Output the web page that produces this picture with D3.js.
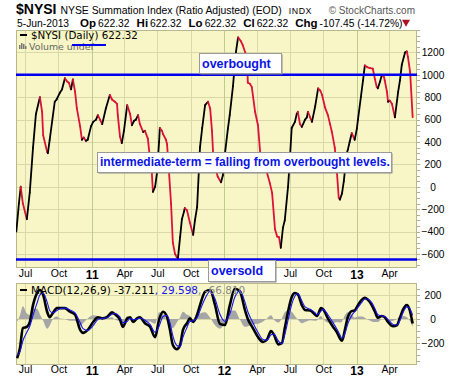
<!DOCTYPE html>
<html>
<head>
<meta charset="utf-8">
<style>
  body { margin: 0; background: #fff; }
  text { font-family: "Liberation Sans", Arial, sans-serif; }
  .lg { font-family: "DejaVu Sans", Verdana, sans-serif; }
</style>
</head>
<body>
<div id="chart"></div>
<script src="https://cdn.jsdelivr.net/npm/d3@7/dist/d3.min.js"></script>
<script>
// $NYSI daily values
const nysiDates = [
  "2010-06-07","2010-06-14","2010-06-19","2010-06-25","2010-07-06","2010-07-14","2010-07-23","2010-07-31","2010-08-11","2010-08-17",
  "2010-08-20","2010-08-31","2010-09-02","2010-09-07","2010-09-21","2010-09-26","2010-10-05","2010-10-11","2010-10-19","2010-10-25",
  "2010-10-30","2010-11-05","2010-11-10","2010-11-16","2010-11-21","2010-11-30","2010-12-05","2010-12-10","2010-12-16","2010-12-21",
  "2010-12-30","2011-01-05","2011-01-13","2011-01-18","2011-01-24","2011-01-30","2011-02-09","2011-02-20","2011-02-26","2011-03-06",
  "2011-03-12","2011-03-14","2011-03-20","2011-03-25","2011-03-31","2011-04-09","2011-04-17","2011-04-22","2011-04-28","2011-05-03",
  "2011-05-09","2011-05-14","2011-05-23","2011-05-28","2011-06-05","2011-06-11","2011-06-16","2011-06-19","2011-06-25","2011-06-30",
  "2011-07-06","2011-07-08","2011-07-14","2011-07-17","2011-07-25","2011-07-28","2011-08-02","2011-08-08","2011-08-13","2011-08-19",
  "2011-08-24","2011-08-27","2011-09-02","2011-09-07","2011-09-13","2011-09-15","2011-09-21","2011-09-29","2011-10-08","2011-10-13",
  "2011-10-19","2011-10-27","2011-11-02","2011-11-10","2011-11-18","2011-11-24","2011-11-29","2011-12-02","2011-12-07","2011-12-15",
  "2011-12-24","2011-12-29","2012-01-04","2012-01-12","2012-01-17","2012-01-26","2012-02-03","2012-02-09","2012-02-17","2012-02-22",
  "2012-03-02","2012-03-05","2012-03-07","2012-03-13","2012-03-18","2012-03-27","2012-04-04","2012-04-10","2012-04-21","2012-04-29",
  "2012-05-07","2012-05-13","2012-05-21","2012-05-27","2012-06-01","2012-06-06","2012-06-12","2012-06-17","2012-06-26","2012-07-01",
  "2012-07-06","2012-07-15","2012-07-20","2012-07-23","2012-07-29","2012-08-03","2012-08-12","2012-08-17","2012-08-20","2012-08-26",
  "2012-08-31","2012-09-09","2012-09-17","2012-09-23","2012-09-28","2012-10-06","2012-10-14","2012-10-20","2012-10-25","2012-11-02",
  "2012-11-08","2012-11-13","2012-11-16","2012-11-22","2012-11-27","2012-12-05","2012-12-08","2012-12-13","2012-12-19","2012-12-27",
  "2013-01-02","2013-01-05","2013-01-13","2013-01-19","2013-01-24","2013-01-30","2013-02-07","2013-02-15","2013-02-21","2013-02-26",
  "2013-03-01","2013-03-07","2013-03-12","2013-03-18","2013-03-20","2013-03-26","2013-03-29","2013-04-03","2013-04-09","2013-04-17",
  "2013-04-26","2013-05-01","2013-05-06","2013-05-15","2013-05-20","2013-05-23","2013-05-29","2013-06-05"
];
const nysiValues = [
  -400,-150,0,-150,-290,-50,350,650,800,670,
  460,310,300,420,760,780,840,870,970,940,
  930,870,960,850,700,540,420,440,410,420,
  540,580,600,640,600,560,700,820,780,760,
  740,640,450,390,500,730,650,550,590,600,
  640,560,490,500,430,250,120,-45,0,120,
  400,525,500,470,420,380,150,-150,-500,-600,
  -630,-640,-450,-290,-220,-190,-210,-320,-430,-300,
  -180,355,525,730,760,700,500,310,180,90,
  40,100,300,520,640,900,1200,1335,1300,1265,
  1180,1150,930,920,890,670,550,310,200,125,
  30,-55,-380,-445,-450,-545,-365,-300,0,240,
  525,580,650,670,560,535,600,620,670,620,
  580,720,880,860,820,710,640,560,490,350,
  125,-100,-115,-60,50,300,330,400,480,420,
  520,600,800,950,1085,1070,1060,1055,960,890,
  880,940,1000,980,950,850,760,770,740,620,
  850,950,1090,1200,1210,1160,1025,622.32
];

// MACD(12,26,9) panel
const macdDates = [
  "2010-06-09","2010-06-17","2010-06-25","2010-07-06","2010-07-14","2010-07-23","2010-08-03","2010-08-11","2010-08-20","2010-08-31",
  "2010-09-07","2010-09-16","2010-09-27","2010-10-05","2010-10-19","2010-11-02","2010-11-16","2010-11-30","2010-12-08","2010-12-21",
  "2011-01-05","2011-01-18","2011-01-30","2011-02-12","2011-02-26","2011-03-06","2011-03-20","2011-03-28","2011-04-09","2011-04-17",
  "2011-04-25","2011-05-06","2011-05-14","2011-05-28","2011-06-11","2011-06-25","2011-07-06","2011-07-17","2011-07-28","2011-08-05",
  "2011-08-13","2011-08-24","2011-09-02","2011-09-10","2011-09-21","2011-09-29","2011-10-08","2011-10-19","2011-10-27","2011-11-10",
  "2011-11-24","2011-12-07","2011-12-21","2012-01-04","2012-01-17","2012-01-31","2012-02-14","2012-02-28","2012-03-07","2012-03-21",
  "2012-04-04","2012-04-18","2012-04-29","2012-05-10","2012-05-18","2012-05-30","2012-06-09","2012-06-17","2012-06-26","2012-07-06",
  "2012-07-15","2012-07-23","2012-08-03","2012-08-12","2012-08-26","2012-09-09","2012-09-14","2012-09-25","2012-10-01","2012-10-14",
  "2012-10-28","2012-11-08","2012-11-16","2012-11-22","2012-11-30","2012-12-08","2012-12-19","2012-12-27","2013-01-05","2013-01-16",
  "2013-01-24","2013-02-01","2013-02-12","2013-02-21","2013-03-01","2013-03-12","2013-03-20","2013-03-29","2013-04-12","2013-04-23",
  "2013-05-01","2013-05-09","2013-05-20","2013-05-26","2013-06-05"
];
const macdValues = [
  -325,-240,-75,-65,-25,115,215,240,200,60,
  15,50,90,90,90,60,35,-90,-115,-90,
  -25,15,5,15,55,40,-5,-65,5,15,
  -25,5,15,-35,-65,-150,-5,60,15,-90,
  -215,-250,-215,-90,-35,5,-25,35,115,225,
  240,120,-40,-50,110,250,230,75,0,-75,
  -150,-190,-170,-100,-130,-210,-200,-75,60,180,
  215,205,115,75,70,35,25,90,80,5,
  -65,-110,-160,-180,-90,15,65,70,115,160,
  175,160,115,60,10,25,15,-25,-60,-50,
  10,75,115,90,-37.211
];
const signalValues = [
  -300,-270,-180,-110,-60,30,130,200,215,140,
  70,50,70,85,90,75,50,-30,-80,-95,
  -55,-5,5,10,40,45,15,-30,-20,5,
  -5,0,10,-10,-45,-110,-60,20,30,-30,
  -140,-220,-230,-150,-70,-20,-15,10,70,170,
  230,170,40,-20,40,180,235,140,60,-30,
  -110,-170,-175,-130,-125,-180,-205,-130,-10,120,
  190,210,150,100,80,50,35,65,80,35,
  -30,-85,-130,-160,-120,-40,30,60,95,140,
  165,165,135,85,35,25,20,-5,-45,-50,
  -10,50,100,95,29.598
];

const priceTicks = [1200, 1000, 800, 600, 400, 200, 0, -200, -400, -600];
const macdTicks = [200, 0, -200];
const overboughtLevel = 1000;
const oversoldLevel = -650;

const W = 460, H = 383;
const left = 16, right = 417;
const main = { top: 30, bottom: 268 };
const low = { top: 283, bottom: 365 };
const oversoldBox = { x: 208, y: 260, w: 67, h: 21 };

const parse = d3.timeParse("%Y-%m-%d");
const nysi = nysiDates.map((d, i) => ({ date: parse(d), v: nysiValues[i] }));
const macd = macdDates.map((d, i) => ({ date: parse(d), m: macdValues[i], s: signalValues[i] }));

const x = d3.scaleTime()
  .domain([new Date(2010, 5, 6), new Date(2013, 5, 17)])
  .range([left, right]);
const y = d3.scaleLinear().domain([-726, 1401]).range([main.bottom, main.top]);
const y2 = d3.scaleLinear().domain([-381, 298]).range([low.bottom, low.top]);

const svg = d3.select("#chart").append("svg")
  .attr("width", W).attr("height", H);

const bg = "#f8f6c6", grid = "#d9d8a8", yearGrid = "#bccb8e", frame = "#b9b88c";
const quarters = d3.timeMonth.every(3).range(x.domain()[0], x.domain()[1]);

// ---- header
const h1 = svg.append("text").attr("x", 16).attr("y", 14);
h1.append("tspan").attr("font-weight", "bold").attr("font-size", 14).text("$NYSI");
h1.append("tspan").attr("dx", 4).attr("font-size", 10.4).text("NYSE Summation Index (Ratio Adjusted) (EOD)");
h1.append("tspan").attr("dx", 7).attr("font-size", 8.8).attr("letter-spacing", 0.6).text("INDX");
svg.append("text").attr("x", 415).attr("y", 14).attr("text-anchor", "end")
  .attr("font-size", 10).attr("fill", "#555").text("\u00A9 StockCharts.com");

const h2 = svg.append("text").attr("x", 17).attr("y", 26.5).attr("font-size", 10.3);
const pairs = [["Op", "622.32"], ["Hi", "622.32"], ["Lo", "622.32"], ["Cl", "622.32"], ["Chg", "-107.45 (-14.72%)"]];
h2.append("tspan").text("5-Jun-2013");
pairs.forEach((p, i) => {
  h2.append("tspan").attr("dx", i === 0 ? 11 : 7).attr("font-weight", "bold").attr("font-size", 11.5).text(p[0]);
  h2.append("tspan").attr("dx", 2).text(p[1]);
});
svg.append("path").attr("d", d3.symbol(d3.symbolTriangle, 28)())
  .attr("transform", "translate(406,22) rotate(180)").attr("fill", "#b01020");

// ---- panels
function panel(top, bottom, yScale, ticks, minorStep) {
  const g = svg.append("g");
  g.append("rect").attr("x", left).attr("y", top).attr("width", right - left).attr("height", bottom - top)
    .attr("fill", bg);
  g.selectAll("line.h").data(ticks).join("line")
    .attr("x1", left).attr("x2", right)
    .attr("y1", d => Math.round(yScale(d)) + 0.5).attr("y2", d => Math.round(yScale(d)) + 0.5)
    .attr("stroke", grid);
  g.selectAll("line.v").data(quarters).join("line")
    .attr("x1", d => Math.round(x(d)) + 0.5).attr("x2", d => Math.round(x(d)) + 0.5)
    .attr("y1", top).attr("y2", bottom)
    .attr("stroke", d => d.getMonth() === 0 ? yearGrid : grid);
  // minor ticks on right edge
  const [lo, hi] = yScale.domain();
  const minor = d3.range(Math.ceil(lo / minorStep) * minorStep, hi, minorStep);
  g.selectAll("line.m").data(minor).join("line")
    .attr("x1", right).attr("x2", right + 3)
    .attr("y1", d => Math.round(yScale(d)) + 0.5).attr("y2", d => Math.round(yScale(d)) + 0.5)
    .attr("stroke", "#b0b090");
  g.append("rect").attr("x", left + 0.5).attr("y", top + 0.5).attr("width", right - left - 1).attr("height", bottom - top - 1)
    .attr("fill", "none").attr("stroke", frame);
  // right axis labels
  const ax = g.append("g").attr("transform", `translate(${right},0)`)
    .call(d3.axisRight(yScale).tickValues(ticks).tickSize(0).tickPadding(16).tickFormat(d3.format("d")));
  ax.select(".domain").remove();
  ax.selectAll("text").attr("text-anchor", "middle").attr("font-size", 10.2)
    .attr("font-family", "'Liberation Sans', Arial, sans-serif").attr("fill", "#000");
  return g;
}

panel(main.top, main.bottom, y, priceTicks, 50);
panel(low.top, low.bottom, y2, macdTicks, 50);

// x axis labels (the top row skips the ticks hidden behind the "oversold" note)
function xLabels(baseY, ticks) {
  const ax = svg.append("g").attr("transform", `translate(0,${baseY})`)
    .call(d3.axisBottom(x).tickValues(ticks).tickSize(0).tickPadding(0)
      .tickFormat(d => d.getMonth() === 0 ? d3.timeFormat("%y")(d) : d3.timeFormat("%b")(d)));
  ax.select(".domain").remove();
  ax.selectAll("text")
    .attr("font-family", "'DejaVu Sans', Verdana, sans-serif")
    .attr("font-size", d => d.getMonth() === 0 ? 12 : 10.5)
    .attr("font-weight", d => d.getMonth() === 0 ? "bold" : "normal")
    .attr("fill", "#000");
}
xLabels(270, quarters.filter(d => x(d) < oversoldBox.x - 6 || x(d) > oversoldBox.x + oversoldBox.w + 6));
xLabels(366, quarters);

// ---- main line
svg.append("clipPath").attr("id", "clipMain").append("rect")
  .attr("x", left).attr("y", main.top).attr("width", right - left).attr("height", main.bottom - main.top);
const segs = d3.pairs(nysi);
svg.append("g").attr("clip-path", "url(#clipMain)")
  .selectAll("line").data(segs).join("line")
  .attr("x1", d => x(d[0].date)).attr("y1", d => y(d[0].v))
  .attr("x2", d => x(d[1].date)).attr("y2", d => y(d[1].v))
  .attr("stroke", d => d[1].v >= d[0].v ? "#000" : "#dc1238")
  .attr("stroke-width", 1.8).attr("stroke-linecap", "round");

// overbought / oversold levels
[overboughtLevel, oversoldLevel].forEach(v => {
  svg.append("line").attr("x1", left).attr("x2", right)
    .attr("y1", y(v)).attr("y2", y(v))
    .attr("stroke", "#0000ee").attr("stroke-width", 2.5);
});

// legend
svg.append("line").attr("x1", 20).attr("x2", 27).attr("y1", 35).attr("y2", 35).attr("stroke", "#000").attr("stroke-width", 2);
svg.append("text").attr("class", "lg").attr("x", 31).attr("y", 39).attr("font-size", 10.3)
  .text("$NYSI (Daily) 622.32");
const vIcon = svg.append("g").attr("fill", "#777");
[[19, 4], [21, 6], [23, 5], [25, 3]].forEach(b => vIcon.append("rect").attr("x", b[0]).attr("y", 49 - b[1]).attr("width", 1.5).attr("height", b[1]));
svg.append("text").attr("class", "lg").attr("x", 29).attr("y", 49.5).attr("font-size", 9.4)
  .attr("fill", "#666").text("Volume undef");
svg.append("line").attr("x1", 72).attr("x2", 106).attr("y1", 45).attr("y2", 45)
  .attr("stroke", "#0000ee").attr("stroke-width", 2);

// annotation boxes
function note(x0, y0, w, h, txt, size) {
  const g = svg.append("g");
  g.append("rect").attr("x", x0 + 1.5).attr("y", y0 + 1.5).attr("width", w).attr("height", h).attr("fill", "#8a8a8a");
  g.append("rect").attr("x", x0 + 0.5).attr("y", y0 + 0.5).attr("width", w).attr("height", h)
    .attr("fill", "#fff").attr("stroke", "#9a9a9a");
  g.append("text").attr("x", x0 + 3).attr("y", y0 + h / 2 + size * 0.36)
    .attr("font-size", size).attr("font-weight", "bold").attr("fill", "#0a14e6").text(txt);
}
note(199, 53, 82, 20, "overbought", 12.5);
note(97, 152, 294, 20, "intermediate-term = falling from overbought levels.", 12);
note(oversoldBox.x, oversoldBox.y, oversoldBox.w, oversoldBox.h, "oversold", 12.5);

// ---- MACD panel
svg.append("clipPath").attr("id", "clipLow").append("rect")
  .attr("x", left).attr("y", low.top).attr("width", right - left).attr("height", low.bottom - low.top);
const gl = svg.append("g").attr("clip-path", "url(#clipLow)");
gl.append("path").datum(macd)
  .attr("d", d3.area().x(d => x(d.date)).y0(y2(0)).y1(d => y2(d.m - d.s)).curve(d3.curveMonotoneX))
  .attr("fill", "#a6a6a6");
gl.append("path").datum(macd)
  .attr("d", d3.line().x(d => x(d.date)).y(d => y2(d.m)).curve(d3.curveMonotoneX))
  .attr("fill", "none").attr("stroke", "#000").attr("stroke-width", 2.6);
gl.append("path").datum(macd)
  .attr("d", d3.line().x(d => x(d.date)).y(d => y2(d.s)).curve(d3.curveMonotoneX))
  .attr("fill", "none").attr("stroke", "#1515f0").attr("stroke-width", 1.1);

svg.append("line").attr("x1", 20).attr("x2", 27).attr("y1", 290).attr("y2", 290).attr("stroke", "#000").attr("stroke-width", 2);
const ml = svg.append("text").attr("class", "lg").attr("x", 31).attr("y", 294).attr("font-size", 10.5);
ml.append("tspan").text("MACD(12,26,9) -37.211");
ml.append("tspan").attr("fill", "#1515f0").text(", 29.598");
ml.append("tspan").attr("fill", "#888").text(", -66.810");
</script>
</body>
</html>
